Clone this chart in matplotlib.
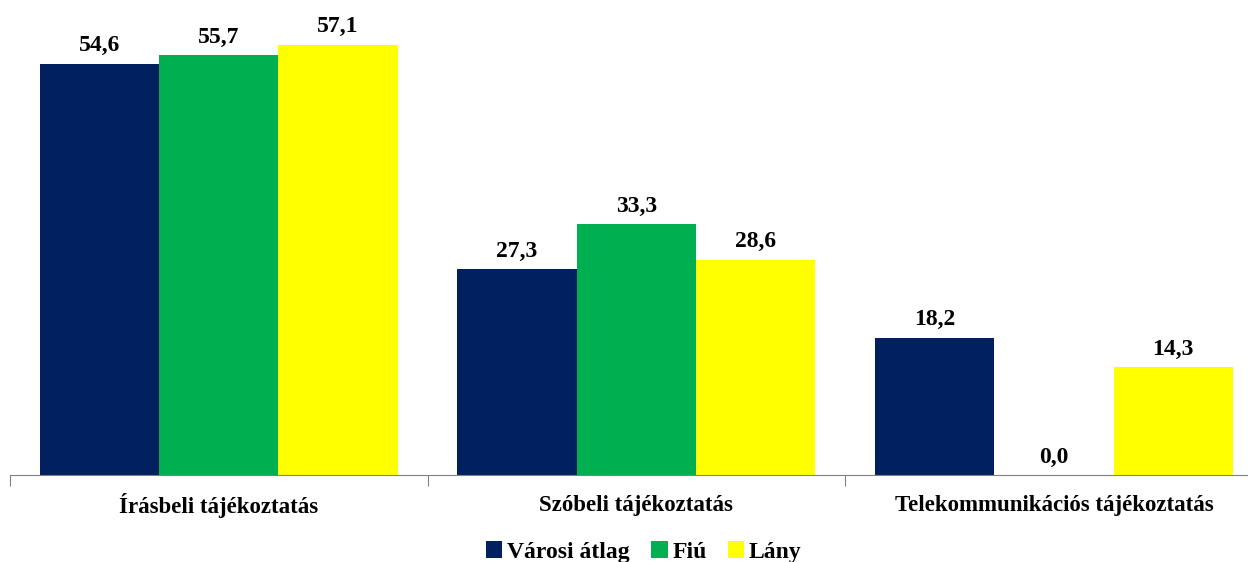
import numpy as np
import matplotlib.pyplot as plt

categories = ["Írásbeli tájékoztatás", "Szóbeli tájékoztatás", "Telekommunikációs tájékoztatás"]
series = ["Városi átlag", "Fiú", "Lány"]
varosi = [54.6, 27.3, 18.2]
fiu = [55.7, 33.3, 0.0]
lany = [57.1, 28.6, 14.3]
colors = ["#002060", "#00B050", "#FFFF00"]

plt.rcParams['font.family'] = ['Liberation Serif', 'DejaVu Serif']
plt.rcParams['font.weight'] = 'bold'

fig = plt.figure(figsize=(12.48, 5.62), dpi=100)
ax = fig.add_axes([10 / 1248, 1 - 475 / 562, 1238 / 1248, 452 / 562])

x = np.arange(len(categories))
w = 0.286
for i, (name, vals) in enumerate(zip(series, [varosi, fiu, lany])):
    pos = x + (i - 1) * w
    ax.bar(pos, vals, width=w, color=colors[i], label=name)
    for px, v in zip(pos, vals):
        ax.text(px, v + 1.0, f"{v:.1f}".replace(".", ","), ha='center', va='bottom',
                fontsize=17, fontweight='bold')

ax.set_xlim(-0.5, 2.465)
ax.set_ylim(0, 60)
ax.set_yticks([])
for s in ['top', 'right', 'left']:
    ax.spines[s].set_visible(False)
ax.spines['bottom'].set_color('#808080')

ax.set_xticks([-0.5, 0.5, 1.5])
ax.set_xticklabels([])
ax.tick_params(axis='x', length=8, color='#808080', direction='out')
for xi, c in zip(x, categories):
    ax.text(xi, -4.1, c, ha='center', va='center', fontsize=16.5, fontweight='bold')

ax.legend(loc='center', bbox_to_anchor=(0.512, -0.17), ncol=3, frameon=False,
          prop={'size': 17, 'weight': 'bold'}, handlelength=0.7, handleheight=0.7,
          handletextpad=0.2, columnspacing=0.9)

fig.savefig("out.png", dpi=100)
